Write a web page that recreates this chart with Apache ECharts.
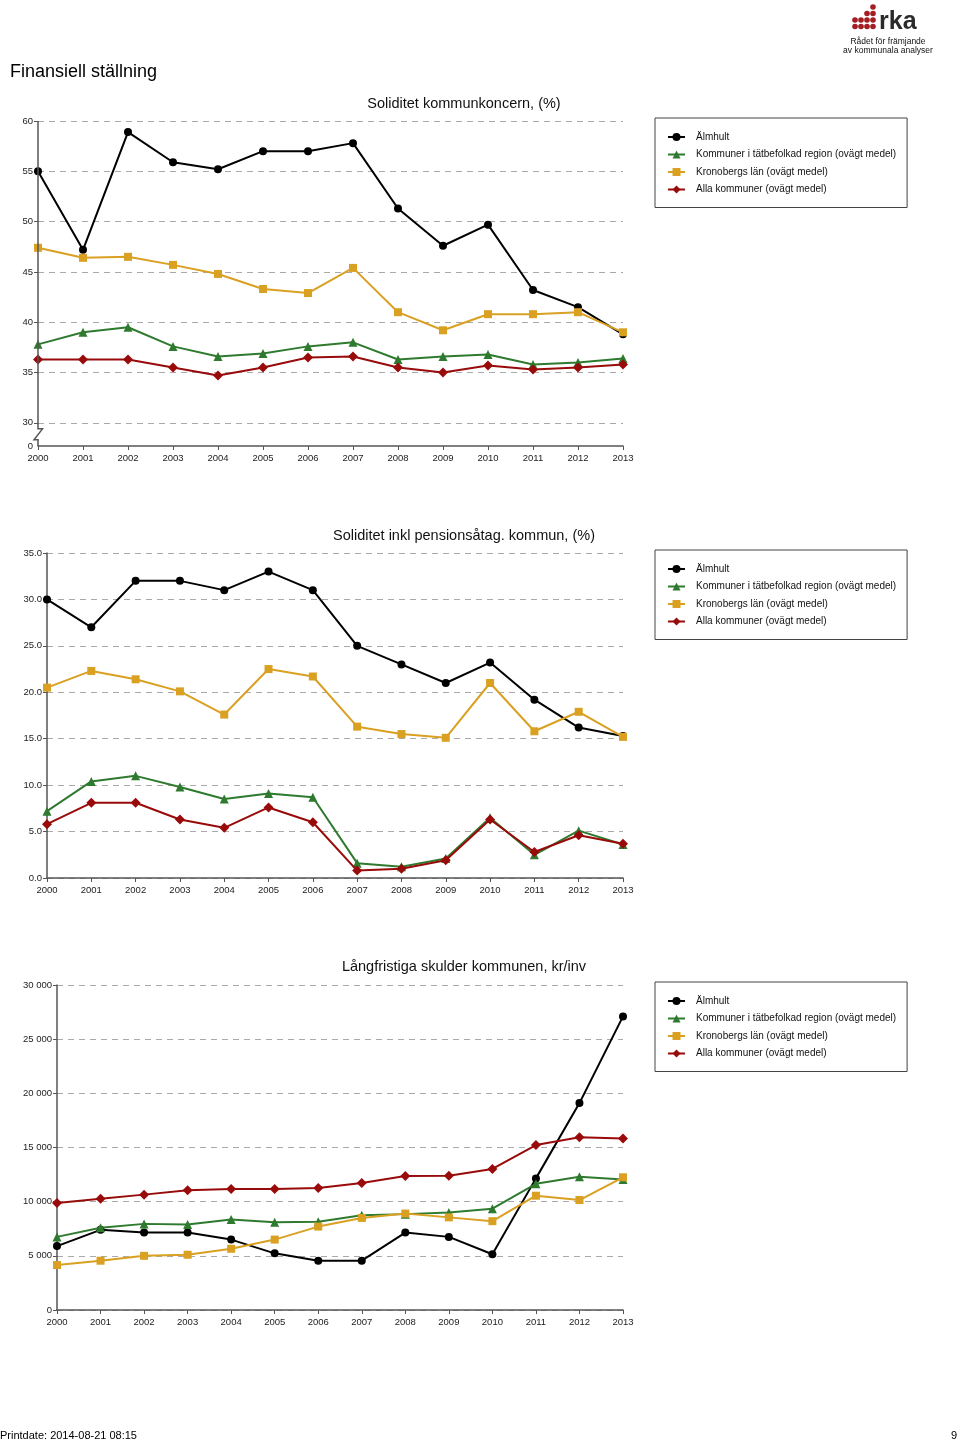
<!DOCTYPE html>
<html>
<head>
<meta charset="utf-8">
<script src="https://cdn.jsdelivr.net/npm/echarts@6.0.0/dist/echarts.min.js"></script>
<style>
  html, body { margin: 0; padding: 0; background: #fff; }
  #chart { width: 960px; height: 1442px; }
</style>
</head>
<body>
<div id="chart"></div>
<script>
// ---------- data ----------
const years = ['2000','2001','2002','2003','2004','2005','2006','2007','2008','2009','2010','2011','2012','2013'];
const seriesNames = ['Älmhult', 'Kommuner i tätbefolkad region (ovägt medel)', 'Kronobergs län (ovägt medel)', 'Alla kommuner (ovägt medel)'];
const chartTitles = ['Soliditet kommunkoncern, (%)', 'Soliditet inkl pensionsåtag. kommun, (%)', 'Långfristiga skulder kommunen, kr/inv'];

// Chart 1: Soliditet kommunkoncern (%)
const kon_almhult   = [55.0, 47.2, 58.9, 55.9, 55.2, 57.0, 57.0, 57.8, 51.3, 47.6, 49.7, 43.2, 41.5, 38.8];
const kon_tatbef    = [37.8, 39.0, 39.5, 37.6, 36.6, 36.9, 37.6, 38.0, 36.3, 36.6, 36.8, 35.8, 36.0, 36.4];
const kon_kronoberg = [47.4, 46.4, 46.5, 45.7, 44.8, 43.3, 42.9, 45.4, 41.0, 39.2, 40.8, 40.8, 41.0, 39.0];
const kon_alla      = [36.3, 36.3, 36.3, 35.5, 34.7, 35.5, 36.5, 36.6, 35.5, 35.0, 35.7, 35.3, 35.5, 35.8];
const kon_yTicks    = [30, 35, 40, 45, 50, 55, 60];

// Chart 2: Soliditet inkl pensionsåtag. kommun (%)
const pen_almhult   = [30.0, 27.0, 32.0, 32.0, 31.0, 33.0, 31.0, 25.0, 23.0, 21.0, 23.2, 19.2, 16.2, 15.3];
const pen_tatbef    = [7.2, 10.4, 11.0, 9.8, 8.5, 9.1, 8.7, 1.6, 1.2, 2.1, 6.5, 2.5, 5.1, 3.6];
const pen_kronoberg = [20.5, 22.3, 21.4, 20.1, 17.6, 22.5, 21.7, 16.3, 15.5, 15.1, 21.0, 15.8, 17.9, 15.2];
const pen_alla      = [5.8, 8.1, 8.1, 6.3, 5.4, 7.6, 6.0, 0.8, 1.0, 1.9, 6.3, 2.8, 4.6, 3.7];

// Chart 3: Långfristiga skulder kommunen, kr/inv
const skuld_almhult   = [5900, 7400, 7150, 7150, 6500, 5230, 4550, 4550, 7150, 6750, 5150, 12150, 19100, 27100];
const skuld_tatbef    = [6750, 7600, 7950, 7900, 8350, 8100, 8150, 8750, 8850, 9000, 9350, 11650, 12300, 12050];
const skuld_kronoberg = [4150, 4550, 5000, 5100, 5650, 6500, 7700, 8500, 8900, 8550, 8200, 10550, 10150, 12250];
const skuld_alla      = [9880, 10280, 10650, 11050, 11170, 11170, 11260, 11720, 12370, 12400, 13020, 15230, 15940, 15820];

// ---------- styling ----------
const FONT = 'Liberation Sans';
const colors = ['#000000', '#2e7a2e', '#d9a021', '#990a0a'];
const symbols = ['circle', 'triangle', 'rect', 'diamond'];
const symbolSizes = [8, 9, 8, 10];
const axisColor = '#555';

const chart = echarts.init(document.getElementById('chart'), null, { renderer: 'canvas' });

const grids = [
  { left: 38, right: 337, top: 121, height: 325 },
  { left: 47, right: 337, top: 553, height: 325 },
  { left: 57, right: 337, top: 985, height: 325 }
];

function makeX(gi) {
  return {
    type: 'category', gridIndex: gi, data: years, boundaryGap: false,
    axisLine: { lineStyle: { color: axisColor, width: 1.5 } },
    axisTick: { show: true, length: 4, alignWithLabel: true, lineStyle: { color: axisColor } },
    axisLabel: { color: '#222', fontSize: 9.5, fontFamily: FONT, margin: 7 },
    splitLine: { show: false }
  };
}
const splitLine = { show: true, lineStyle: { color: '#aaa', type: [6, 5], width: 1 } };

const yAxes = [
  {
    type: 'value', gridIndex: 0, min: 27.7, max: 60,
    axisLine: { show: false },
    axisTick: { show: true, length: 4, inside: false, lineStyle: { color: axisColor }, customValues: kon_yTicks },
    axisLabel: { color: '#222', fontSize: 9.5, fontFamily: FONT, margin: 5, customValues: [27.7].concat(kon_yTicks),
      formatter: v => (v < 29 ? '0' : String(Math.round(v))) },
    splitLine: splitLine
  },
  {
    type: 'value', gridIndex: 1, min: 0, max: 35, interval: 5,
    axisLine: { show: true, lineStyle: { color: axisColor, width: 1.5 } },
    axisTick: { show: true, length: 4, lineStyle: { color: axisColor } },
    axisLabel: { color: '#222', fontSize: 9.5, fontFamily: FONT, margin: 5, formatter: v => v.toFixed(1) },
    splitLine: splitLine
  },
  {
    type: 'value', gridIndex: 2, min: 0, max: 30000, interval: 5000,
    axisLine: { show: true, lineStyle: { color: axisColor, width: 1.5 } },
    axisTick: { show: true, length: 4, lineStyle: { color: axisColor } },
    axisLabel: { color: '#222', fontSize: 9.5, fontFamily: FONT, margin: 5,
      formatter: v => String(v).replace(/\B(?=(\d{3})+(?!\d))/g, ' ') },
    splitLine: splitLine
  }
];

const chartData = [
  [kon_almhult, kon_tatbef, kon_kronoberg, kon_alla],
  [pen_almhult, pen_tatbef, pen_kronoberg, pen_alla],
  [skuld_almhult, skuld_tatbef, skuld_kronoberg, skuld_alla]
];

const series = [];
chartData.forEach((arrs, gi) => {
  arrs.forEach((arr, si) => {
    series.push({
      name: seriesNames[si], type: 'line', xAxisIndex: gi, yAxisIndex: gi,
      data: arr, symbol: symbols[si], symbolSize: symbolSizes[si], showSymbol: true,
      lineStyle: { color: colors[si], width: 2 },
      itemStyle: { color: colors[si] },
      z: 2 + si, animation: false
    });
  });
});

const legendTops = [118, 550, 982];
const legends = legendTops.map(t => ({
  data: seriesNames, orient: 'vertical', left: 655, top: t,
  selectedMode: false,
  itemWidth: 17, itemHeight: 10, itemGap: 7.5,
  padding: [14, 11, 13, 12],
  borderColor: '#444', borderWidth: 1,
  textStyle: { fontSize: 10, fontFamily: FONT, color: '#111', padding: [0, 0, 0, 6] }
}));

const titleCenters = [[464, 104], [464, 536], [464, 967]];
const graphics = [
  { type: 'text', left: 10, top: 63, style: { text: 'Finansiell ställning', font: '18px "Liberation Sans"', fill: '#000' } },
  { type: 'text', left: 0, top: 1430, style: { text: 'Printdate: 2014-08-21 08:15', font: '11px "Liberation Sans"', fill: '#000' } },
  { type: 'text', left: 951, top: 1430, style: { text: '9', font: '11px "Liberation Sans"', fill: '#000' } }
];
titleCenters.forEach((c, i) => {
  graphics.push({ type: 'text', x: c[0], y: c[1], style: { text: chartTitles[i], font: '14.5px "Liberation Sans"', fill: '#111', align: 'center', verticalAlign: 'middle' } });
});
// logo (decorative)
const logoDots = [[873,7],[867,13.5],[873,13.5],[861,20],[867,20],[873,20],[855,26.5],[861,26.5],[867,26.5],[873,26.5],[855,20]];
logoDots.forEach(d => graphics.push({ type: 'circle', shape: { cx: d[0], cy: d[1], r: 2.8 }, style: { fill: '#a31d24' } }));
graphics.push({ type: 'text', x: 879, y: 22, style: { text: 'rka', font: 'bold 25px "Liberation Sans"', fill: '#2b2b2b', verticalAlign: 'middle' } });
graphics.push({ type: 'text', x: 888, y: 42, style: { text: 'Rådet för främjande', font: '8.5px "Liberation Sans"', fill: '#111', align: 'center', verticalAlign: 'middle' } });
graphics.push({ type: 'text', x: 888, y: 51, style: { text: 'av kommunala analyser', font: '8.5px "Liberation Sans"', fill: '#111', align: 'center', verticalAlign: 'middle' } });

chart.setOption({
  animation: false,
  textStyle: { fontFamily: FONT },
  grid: grids,
  xAxis: [makeX(0), makeX(1), makeX(2)],
  yAxis: yAxes,
  legend: legends,
  series: series,
  graphic: graphics
});

// broken y-axis line for chart 1 (positions taken from the axis scale)
const pTop = chart.convertToPixel({ gridIndex: 0 }, [0, 60]);
const p30 = chart.convertToPixel({ gridIndex: 0 }, [0, 30]);
const pMin = chart.convertToPixel({ gridIndex: 0 }, [0, 27.7]);
const x0 = pTop[0];
graphics.push({
  type: 'polyline', z: 10,
  shape: { points: [[x0, pTop[1]], [x0, p30[1] + 6], [x0 + 4.5, p30[1] + 6], [x0 - 4, p30[1] + 17], [x0, p30[1] + 17], [x0, pMin[1]]] },
  style: { stroke: axisColor, lineWidth: 1.5, fill: null }
});
chart.setOption({ graphic: graphics });
</script>
</body>
</html>
